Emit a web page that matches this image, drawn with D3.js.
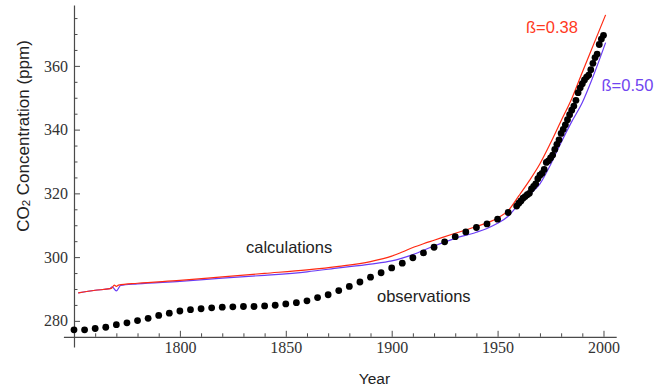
<!DOCTYPE html>
<html>
<head>
<meta charset="utf-8">
<script src="https://cdn.jsdelivr.net/npm/d3@7"></script>
<style>
  html, body { margin: 0; padding: 0; background: #fff; }
  svg { display: block; }
  .tick text { font-family: "Liberation Serif", "Times New Roman", serif !important; font-size: 16px; }
</style>
</head>
<body>
<svg id="chart" width="669" height="391"></svg>
<script>
// Observed CO2: ice-core values every 5 years, then annual station means
const obsYears = [
  1750, 1755, 1760, 1765, 1770, 1775, 1780, 1785, 1790, 1795,
  1800, 1805, 1810, 1815, 1820, 1825, 1830, 1835, 1840, 1845,
  1850, 1855, 1860, 1865, 1870, 1875, 1880, 1885, 1890, 1895,
  1900, 1905, 1910, 1915, 1920, 1925, 1930, 1935, 1940, 1945,
  1950, 1955,
  1959, 1960, 1961, 1962, 1963, 1964, 1965, 1966, 1967, 1968,
  1969, 1970, 1971, 1972, 1973, 1974, 1975, 1976, 1977, 1978,
  1979, 1980, 1981, 1982, 1983, 1984, 1985, 1986, 1987, 1988,
  1989, 1990, 1991, 1992, 1993, 1994, 1995, 1996, 1997, 1998,
  1999, 2000
];
const obsValues = [
  277.2, 277.2, 277.6, 278.0, 278.8, 279.4, 280.1, 280.8, 281.7, 282.4,
  283.1, 283.5, 283.8, 284.1, 284.3, 284.4, 284.5, 284.5, 284.7, 284.9,
  285.3, 285.7, 286.3, 287.3, 288.2, 289.5, 290.8, 292.2, 293.7, 295.1,
  296.6, 298.1, 299.8, 301.3, 303.1, 304.8, 306.4, 307.9, 309.3, 310.4,
  311.9, 314.0,
  316.0, 316.9, 317.6, 318.5, 319.0, 319.6, 320.0, 321.4, 322.2, 323.0,
  324.6, 325.7, 326.3, 327.5, 329.7, 330.2, 331.1, 332.0, 333.8, 335.4,
  336.8, 338.8, 340.1, 341.5, 343.1, 344.7, 346.1, 347.4, 349.2, 351.6,
  353.1, 354.4, 355.6, 356.5, 357.1, 358.8, 360.8, 362.6, 363.7, 366.7,
  368.4, 369.6
];

// Model calculation, beta = 0.38
const calcYearsA = [
  1752, 1760, 1767, 1768, 1769, 1770, 1771, 1780, 1800, 1820,
  1840, 1860, 1875, 1890, 1900, 1905, 1910, 1915, 1920, 1930,
  1940, 1950, 1955, 1960, 1965, 1970, 1975, 1980, 1985, 1990,
  1995, 2001
];
const calcValuesA = [
  288.8, 289.6, 290.1, 290.4, 291.2, 290.8, 291.2, 291.8, 292.7, 293.8,
  294.9, 296.0, 297.1, 298.6, 300.3, 301.6, 303.0, 304.2, 305.3, 307.5,
  309.6, 312.3, 314.6, 319.2, 324.0, 329.3, 335.8, 342.8, 349.7, 358.0,
  366.2, 376.0
];

// Model calculation, beta = 0.50
const calcYearsB = [
  1752, 1760, 1767, 1768, 1770, 1772, 1780, 1800, 1820, 1840,
  1860, 1875, 1890, 1900, 1910, 1920, 1930, 1940, 1945, 1950,
  1955, 1960, 1965, 1970, 1975, 1980, 1985, 1990, 1995, 2001
];
const calcValuesB = [
  288.8, 289.6, 290.1, 290.7, 289.4, 291.1, 291.6, 292.4, 293.4, 294.3,
  295.4, 296.6, 297.8, 298.8, 300.8, 303.5, 305.9, 307.8, 309.0, 310.6,
  312.8, 316.6, 319.6, 323.0, 329.0, 336.0, 342.5, 348.5, 356.5, 367.3
];

const xMajorTicks = [1800, 1850, 1900, 1950, 2000];
const yMajorTicks = [280, 300, 320, 340, 360];

const svg = d3.select("#chart");

const x = d3.scaleLinear().domain([1745, 2006]).range([63.4, 616.2]);
const y = d3.scaleLinear().domain([271.8, 379.1]).range([347, 5]);

const axisColor = "#4a4a4a";
const labelColor = "#333";
const serif = "Liberation Serif, Times New Roman, serif";
const sans = "Liberation Sans, Arial, Helvetica, sans-serif";

const xMinor = d3.range(1760, 2001, 10).filter(v => v % 50 !== 0);
const yMinor = d3.range(285, 376, 5).filter(v => v % 20 !== 0);

function styleAxis(g) {
  g.attr("font-family", serif).attr("font-size", 16);
  g.selectAll("path.domain").attr("stroke", axisColor).attr("stroke-width", 1.2);
  g.selectAll(".tick line").attr("stroke", axisColor).attr("stroke-width", 1);
  g.selectAll(".tick text").attr("fill", labelColor);
}

// horizontal axis crossing at 275 ppm
const xAxisY = y(275);
const gx = svg.append("g").attr("transform", `translate(0,${xAxisY})`)
  .call(d3.axisBottom(x).tickValues(xMajorTicks).tickFormat(d3.format("d"))
    .tickSizeInner(-6).tickSizeOuter(0).tickPadding(5));
styleAxis(gx);
const gxm = svg.append("g").attr("transform", `translate(0,${xAxisY})`)
  .call(d3.axisBottom(x).tickValues(xMinor).tickFormat("")
    .tickSizeInner(-3.5).tickSizeOuter(0));
gxm.select("path.domain").remove();
styleAxis(gxm);

// vertical axis crossing at 1750
const yAxisX = x(1750);
const gy = svg.append("g").attr("transform", `translate(${yAxisX},0)`)
  .call(d3.axisLeft(y).tickValues(yMajorTicks).tickFormat(d3.format("d"))
    .tickSizeInner(-6).tickSizeOuter(0).tickPadding(6));
styleAxis(gy);
const gym = svg.append("g").attr("transform", `translate(${yAxisX},0)`)
  .call(d3.axisLeft(y).tickValues(yMinor).tickFormat("")
    .tickSizeInner(-3.5).tickSizeOuter(0));
gym.select("path.domain").remove();
styleAxis(gym);

// model curves
const line = d3.line().x(d => x(d[0])).y(d => y(d[1])).curve(d3.curveMonotoneX);
const seriesA = d3.zip(calcYearsA, calcValuesA);
const seriesB = d3.zip(calcYearsB, calcValuesB);

svg.append("path").datum(seriesB).attr("d", line)
  .attr("fill", "none").attr("stroke", "#6a3cf5").attr("stroke-width", 1.2);
svg.append("path").datum(seriesA).attr("d", line)
  .attr("fill", "none").attr("stroke", "#ff2a12").attr("stroke-width", 1.2);

// observations
svg.append("g").selectAll("circle")
  .data(d3.zip(obsYears, obsValues))
  .join("circle")
  .attr("cx", d => x(d[0]))
  .attr("cy", d => y(d[1]))
  .attr("r", 3.4)
  .attr("fill", "#000");

// annotations
svg.append("text").attr("x", 246).attr("y", 253)
  .attr("font-family", sans).attr("font-size", 16.5).attr("fill", "#222")
  .text("calculations");
svg.append("text").attr("x", 377).attr("y", 302)
  .attr("font-family", sans).attr("font-size", 16.5).attr("fill", "#222")
  .text("observations");
svg.append("text").attr("x", 526).attr("y", 33)
  .attr("font-family", sans).attr("font-size", 16.5).attr("fill", "#ff3a1e")
  .text("ß=0.38");
svg.append("text").attr("x", 601.5).attr("y", 90.5)
  .attr("font-family", sans).attr("font-size", 16.5).attr("fill", "#7045f0")
  .text("ß=0.50");

// axis titles
svg.append("text").attr("x", 374.5).attr("y", 383.5).attr("text-anchor", "middle")
  .attr("font-family", sans).attr("font-size", 15.5).attr("fill", "#222")
  .text("Year");

const yTitle = svg.append("text")
  .attr("transform", "translate(28.5,136) rotate(-90)")
  .attr("text-anchor", "middle")
  .attr("font-family", sans).attr("font-size", 17).attr("fill", "#222");
yTitle.append("tspan").text("CO");
yTitle.append("tspan").attr("font-size", 11.5).attr("dy", 1.5).text("2");
yTitle.append("tspan").attr("dy", -1.5).text(" Concentration (ppm)");
</script>
</body>
</html>
